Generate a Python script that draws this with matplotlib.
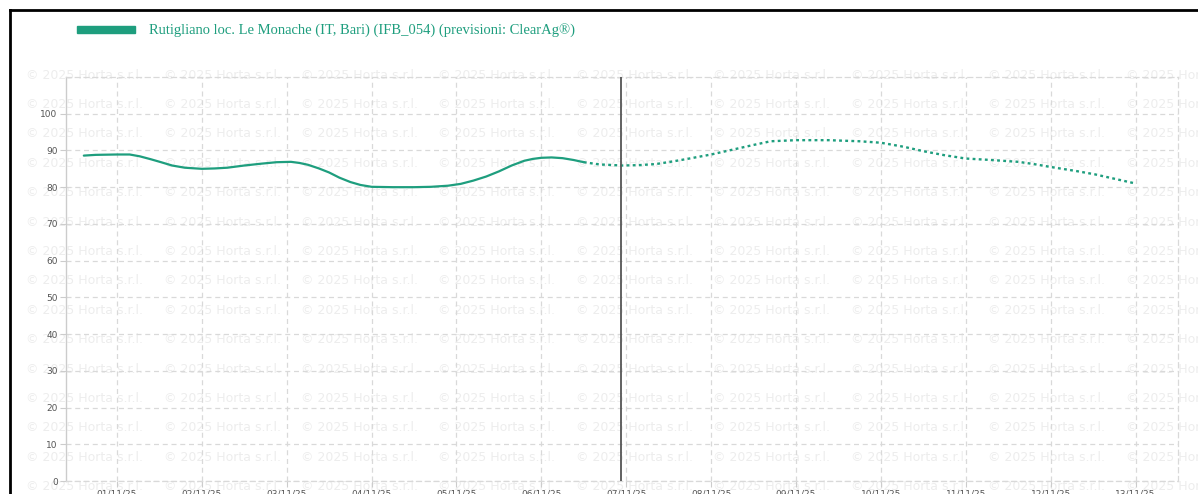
import matplotlib
matplotlib.use("Agg")
import matplotlib.pyplot as plt

# ---- data (days since 01/11/25 00:00) ----
obs_days = [-0.39, -0.25, 0.0, 0.15, 0.27, 0.4, 0.52, 0.65, 0.8, 1.0, 1.15, 1.3,
            1.5, 1.7, 1.88, 2.05, 2.15, 2.25, 2.38, 2.5, 2.62, 2.75, 2.87, 3.0,
            3.25, 3.5, 3.7, 3.9, 4.05, 4.2, 4.35, 4.5, 4.65, 4.8, 4.9, 5.0, 5.12,
            5.25, 5.38, 5.5]
obs_vals = [88.6, 88.8, 88.9, 88.9, 88.4, 87.6, 86.8, 85.9, 85.3, 85.0, 85.1, 85.3,
            85.9, 86.4, 86.8, 86.9, 86.6, 86.1, 85.1, 84.0, 82.6, 81.4, 80.6, 80.1,
            80.0, 80.0, 80.1, 80.4, 80.9, 81.8, 82.9, 84.3, 85.9, 87.2, 87.7, 88.0, 88.1,
            87.9, 87.4, 86.8]

fc_days = [5.5, 5.68, 5.95, 6.15, 6.35, 6.52, 6.72, 7.0, 7.25, 7.48, 7.7, 8.0, 8.38,
           8.75, 9.0, 9.27, 9.5, 9.75, 10.0, 10.3, 10.62, 10.8, 11.0, 11.3, 11.52,
           11.75, 12.0]
fc_vals = [86.8, 86.2, 85.9, 86.0, 86.3, 86.9, 87.7, 88.9, 90.2, 91.4, 92.5, 92.8, 92.8,
           92.5, 92.1, 91.0, 89.8, 88.7, 87.8, 87.4, 86.9, 86.3, 85.5, 84.4, 83.5,
           82.3, 81.0]

now_day = 5.94
tick_days = list(range(13))
tick_labels = ["01/11/25", "02/11/25", "03/11/25", "04/11/25", "05/11/25", "06/11/25",
               "07/11/25", "08/11/25", "09/11/25", "10/11/25", "11/11/25", "12/11/25",
               "13/11/25"]
y_ticks = [0, 10, 20, 30, 40, 50, 60, 70, 80, 90, 100]
legend_label = "Rutigliano loc. Le Monache (IT, Bari) (IFB_054) (previsioni: ClearAg®)"
watermark = "© 2025 Horta s.r.l."

GREEN = "#1e9e7e"
W, H = 1198, 494

fig = plt.figure(figsize=(W / 100, H / 100), dpi=100)
fig.patch.set_facecolor("white")

# watermark grid
for r in range(15):
    yy = 75 + 29.4 * r
    for c in range(9):
        xx = 26 + 137.5 * c
        fig.text(xx / W, 1 - yy / H, watermark, fontsize=9, color="#ededed",
                 family="DejaVu Sans", ha="left", va="center", zorder=-5)

# outer border (top and left)
fig.add_artist(plt.Line2D([10 / W, 1], [1 - 10 / H, 1 - 10 / H], color="black", lw=2,
                          transform=fig.transFigure))
fig.add_artist(plt.Line2D([10 / W, 10 / W], [0, 1 - 10 / H], color="black", lw=2,
                          transform=fig.transFigure))

ax = fig.add_axes([66 / W, (H - 481) / H, (1178 - 66) / W, (481 - 77) / H])
ax.patch.set_alpha(0)

ax.plot(obs_days, obs_vals, color=GREEN, lw=1.6, solid_capstyle="round",
        solid_joinstyle="round", zorder=4)
ax.plot(fc_days, fc_vals, color=GREEN, lw=1.7, linestyle=(0, (1.2, 1.4)), zorder=4)
ax.axvline(now_day, color="#555555", lw=1.3, zorder=5)

ax.set_xlim(-0.6, 12.5)
ax.set_ylim(0, 110)
ax.set_xticks(tick_days)
ax.set_xticklabels(tick_labels)
ax.set_yticks(y_ticks)
ax.tick_params(axis="both", labelsize=6.5, labelcolor="#555555", color="#cccccc",
               length=4, width=0.8)
ax.tick_params(axis="x", pad=2)
ax.tick_params(axis="y", pad=2)

ax.grid(True, color="#d9d9d9", linestyle=(0, (4, 3)), lw=0.9, zorder=1)
ax.set_axisbelow(True)
for s in ["top", "right", "bottom"]:
    ax.spines[s].set_color("#d9d9d9")
    ax.spines[s].set_linestyle((0, (4, 3)))
    ax.spines[s].set_linewidth(0.9)
ax.spines["left"].set_color("#cccccc")
ax.spines["left"].set_linewidth(1.0)

# legend
fig.add_artist(plt.Rectangle((77 / W, 1 - 33 / H), 58 / W, 7 / H, color=GREEN,
                             transform=fig.transFigure))
fig.text(149 / W, 1 - 30 / H, legend_label, fontsize=10.5, color=GREEN,
         family="Liberation Serif", ha="left", va="center")

fig.savefig("out.png", dpi=100)
